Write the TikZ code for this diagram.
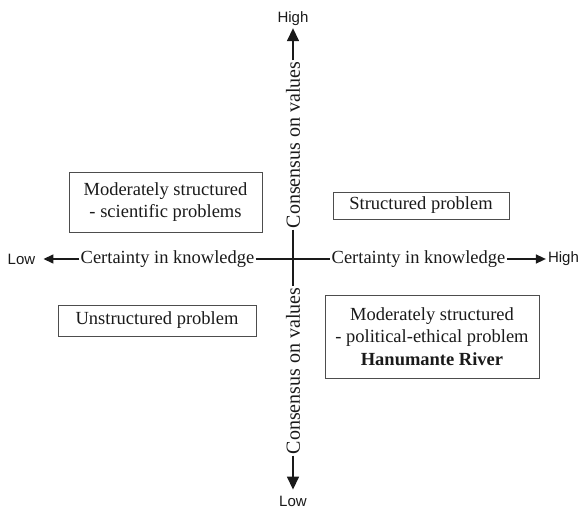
\documentclass[tikz,border=0pt]{standalone}
\usepackage{fontspec}
\setmainfont{Liberation Serif}
\setsansfont{Liberation Sans}
\usetikzlibrary{arrows.meta,positioning}
\definecolor{ink}{HTML}{1A1A1A}
\definecolor{frame}{HTML}{4D4D4D}

\begin{document}
\begin{tikzpicture}[
  x=1pt, y=-1pt,
  font=\fontsize{18.5}{22.5}\selectfont,
  text=ink,
  quadrant/.style={draw=frame, line width=0.9pt, align=center, inner sep=0pt},
  axislabel/.style={inner sep=1pt},
  endlabel/.style={font=\sffamily\fontsize{15}{18}\selectfont, inner sep=1pt},
  axis/.style={draw=ink, line width=1.5pt},
  hflow/.style={axis, -{Triangle[length=10pt, width=9pt]}},
  vflow/.style={axis, -{Triangle[length=13pt, width=12pt]}},
]

\useasboundingbox (0,0) rectangle (582,510);

% axis ends
\node[endlabel] (lowx) at (21.5,259) {Low};
\node[endlabel] (highx) at (563.5,259) {High};
\node[endlabel] (highy) at (293,19) {High};
\node[endlabel] (lowy) at (293,501) {Low};

% axis labels
\node[axislabel] (certL) at (167.5,259) {Certainty in knowledge};
\node[axislabel] (certR) at (418.5,259) {Certainty in knowledge};
\node[axislabel, rotate=90, font=\fontsize{20}{24}\selectfont] (consU) at (293,145) {Consensus on values};
\node[axislabel, rotate=90, font=\fontsize{20}{24}\selectfont] (consD) at (293,371) {Consensus on values};

% quadrants
\node[quadrant, minimum width=193, minimum height=60] (sci) at (165.5,202) {Moderately structured\\- scientific problems};
\node[quadrant, minimum width=176, minimum height=27] (struct) at (421,205.5) {Structured problem};
\node[quadrant, minimum width=198, minimum height=31] (unstruct) at (157,320.5) {Unstructured problem};
\node[quadrant, minimum width=214, minimum height=83] (polit) at (432,336.5) {Moderately structured\\- political-ethical problem\\\textbf{Hanumante River}};

% axes
\draw[axis] (certL.east) -- (certR.west);
\draw[axis] (consU.west) -- (consD.east);
\draw[hflow, shorten >=7pt] (certL.west) -- (lowx.east);
\draw[hflow, shorten >=1pt] (certR.east) -- (highx.west);
\draw[vflow, shorten >=1pt] (consU.east) -- (highy.south);
\draw[vflow, shorten >=5pt] (consD.west) -- (lowy.north);
\end{tikzpicture}
\end{document}
